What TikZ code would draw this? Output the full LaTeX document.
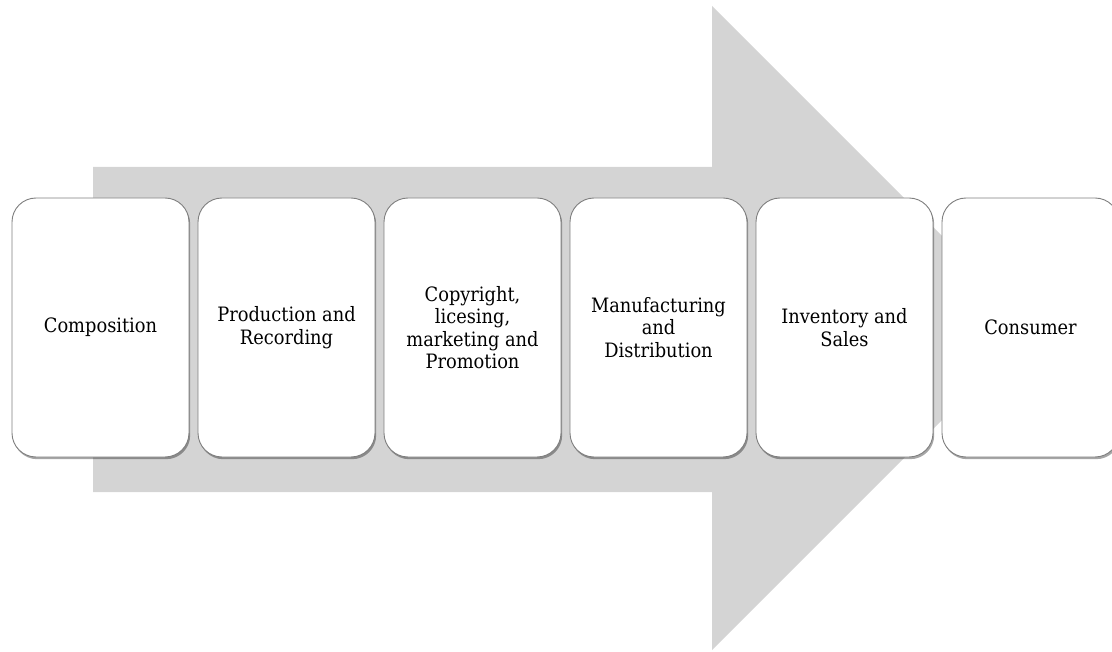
\documentclass[tikz,border=0pt]{standalone}
\usepackage{fontspec}
\setmainfont{DejaVu Serif Condensed}
\usetikzlibrary{shadows}
\definecolor{arrowgray}{HTML}{D4D4D4}
\definecolor{edgegray}{HTML}{7F7F7F}
\tikzset{
  stagebox/.style={draw=edgegray, line width=0.9pt, fill=white, rounded corners=24pt,
    minimum width=177pt, minimum height=259pt, align=center, inner sep=4pt,
    font=\fontsize{19.8}{22.5}\selectfont,
    drop shadow={shadow xshift=1.2pt, shadow yshift=-2.2pt, fill=black, opacity=0.35}},
}
\begin{document}
\begin{tikzpicture}[x=1pt, y=-1pt]
  \useasboundingbox (0,0) rectangle (1112,652);
  % big background arrow
  \fill[arrowgray] (93,167) -- (712,167) -- (712,6) -- (1034,328) -- (712,650)
    -- (712,492) -- (93,492) -- cycle;
  % process stages
  \node[stagebox] (s1) at (100.5,327.5) {Composition};
  \node[stagebox] (s2) at (286.5,327.5) {Production and\\Recording};
  \node[stagebox] (s3) at (472.5,327.5) {Copyright,\\licesing,\\marketing and\\Promotion};
  \node[stagebox] (s4) at (658.5,327.5) {Manufacturing\\and\\Distribution};
  \node[stagebox] (s5) at (844.5,327.5) {Inventory and\\Sales};
  \node[stagebox] (s6) at (1030.5,327.5) {Consumer};
\end{tikzpicture}
\end{document}
